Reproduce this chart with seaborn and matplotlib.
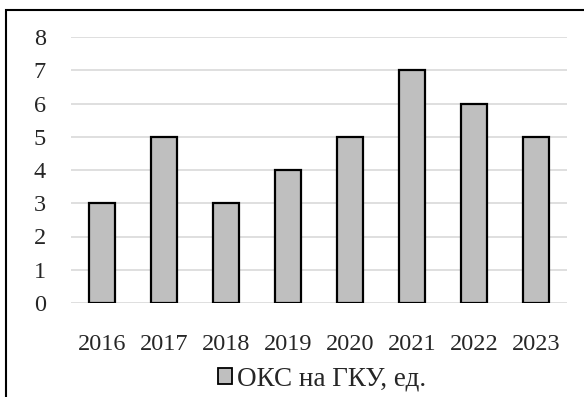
import matplotlib
matplotlib.use("Agg")
import matplotlib.pyplot as plt
import seaborn as sns
import pandas as pd
from matplotlib.patches import Rectangle, Patch

years = ["2016", "2017", "2018", "2019", "2020", "2021", "2022", "2023"]
counts = [3, 5, 3, 4, 5, 7, 6, 5]
series_name = "ОКС на ГКУ, ед."

df = pd.DataFrame({"year": years, "count": counts})

sns.set_style("white")
plt.rcParams["font.family"] = ["Liberation Serif", "DejaVu Serif"]

fig = plt.figure(figsize=(5.84, 3.97), dpi=100)
ax = fig.add_axes([71 / 584, 1 - 303 / 397, 496 / 584, 266 / 397])

sns.barplot(data=df, x="year", y="count", color="#BFBFBF", width=0.42,
            edgecolor="black", linewidth=1.6, saturation=1, ax=ax, zorder=3)

ax.set_ylim(0, 8)
ax.set_xlim(-0.5, len(years) - 0.5)
ax.set_yticks(range(0, 9))
ax.yaxis.grid(True, color="#D9D9D9", linewidth=1.2, zorder=0)
ax.set_axisbelow(True)
for s in ax.spines.values():
    s.set_visible(False)
ax.set_xlabel("")
ax.set_ylabel("")
ax.tick_params(axis="both", length=0, labelsize=17.5)
ax.tick_params(axis="y", pad=18)
ax.tick_params(axis="x", pad=22)

handle = Patch(facecolor="#BFBFBF", edgecolor="black", linewidth=1.3)
fig.legend([handle], [series_name], loc="center", bbox_to_anchor=(322 / 584, 1 - 379 / 397),
           frameon=False, fontsize=19.5, handlelength=0.5, handleheight=0.5,
           handletextpad=0.2, borderaxespad=0)

# outer frame of the chart area
fig.patches.append(Rectangle((6 / 584, -0.5), 2.0, 1.5 - 10 / 397,
                             transform=fig.transFigure, fill=False,
                             edgecolor="black", linewidth=1.5))

fig.savefig("out.png", dpi=100)
